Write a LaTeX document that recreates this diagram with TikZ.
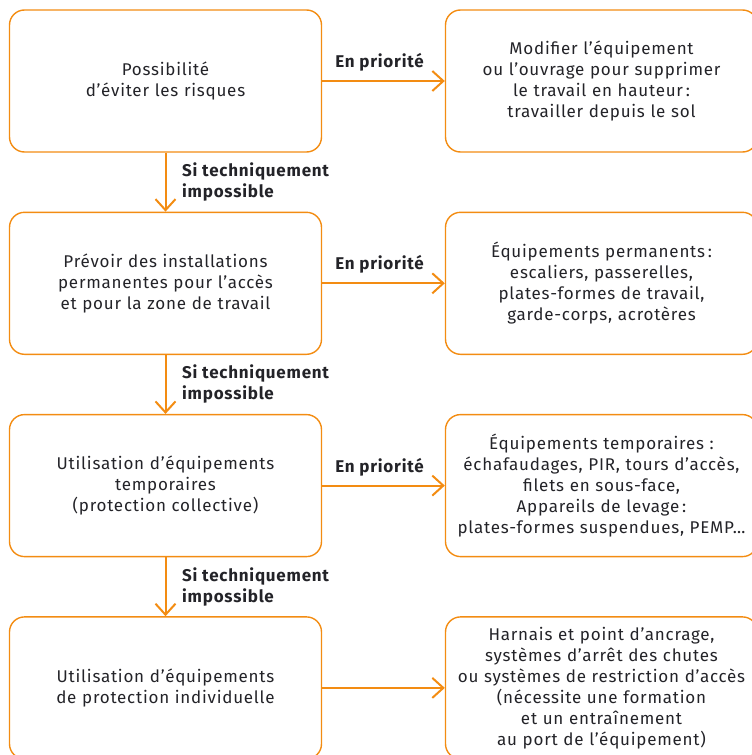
\documentclass[tikz,border=0pt]{standalone}
\usepackage{fontspec}
\setmainfont{Fira Sans}[LetterSpace=4.5]
\usetikzlibrary{trees,arrows.meta}
\definecolor{inrsorange}{RGB}{243,140,18}
\definecolor{inrstexte}{RGB}{35,35,40}
\tikzset{
  etape/.style={draw=inrsorange, line width=1.4pt, rounded corners=15pt,
    text width=290pt, inner xsep=11pt, minimum height=142pt, align=center},
  priorite/.style={above=3pt, xshift=-4pt, font=\bfseries},
  sinon/.style={right=10pt, align=left, font=\bfseries}
}

\begin{document}
\begin{tikzpicture}[x=1pt, y=1pt, text=inrstexte]
  \fontsize{17}{21}\selectfont
  \useasboundingbox (0,0) rectangle (752,-755);
  \clip (0,0) rectangle (752,-755);
  \node[etape] (eviter) at (165.5,-81) {Possibilité\\d’éviter les risques}[
      every child node/.style={etape},
      grow via three points={
        one child at (436pt,0pt) and
        two children at (436pt,0pt) and (0pt,-202.3pt)
      },
      edge from parent/.style={draw=inrsorange, line width=2pt,
        -{Straight Barb[length=11pt, width=20pt]}}
    ]
    child { node (supprimer) {Modifier l’équipement\\ou l’ouvrage pour supprimer\\le travail en hauteur\,:\\travailler depuis le sol}
      edge from parent node[priorite] {En priorité}
    }
    child { node (permanentes) {Prévoir des installations\\permanentes pour l’accès\\et pour la zone de travail}
      child { node (eqpermanents) {Équipements permanents\,:\\escaliers, passerelles,\\plates-formes de travail,\\garde-corps, acrotères}
        edge from parent node[priorite] {En priorité}
      }
      child { node (temporaires) {Utilisation d’équipements\\temporaires\\(protection collective)}
        child { node (eqtemporaires) {Équipements temporaires :\\échafaudages, PIR, tours d’accès,\\filets en sous-face,\\Appareils de levage\,:\\plates-formes suspendues, PEMP…}
          edge from parent node[priorite] {En priorité}
        }
        child { node (individuelle) {Utilisation d’équipements\\de protection individuelle}
          child { node (harnais) {Harnais et point d’ancrage,\\systèmes d’arrêt des chutes\\ou systèmes de restriction d’accès\\(nécessite une formation\\et un entraînement\\au port de l’équipement)}}
          edge from parent node[sinon] {Si techniquement\\impossible}
        }
        edge from parent node[sinon] {Si techniquement\\impossible}
      }
      edge from parent node[sinon] {Si techniquement\\impossible}
    };
\end{tikzpicture}
\end{document}
